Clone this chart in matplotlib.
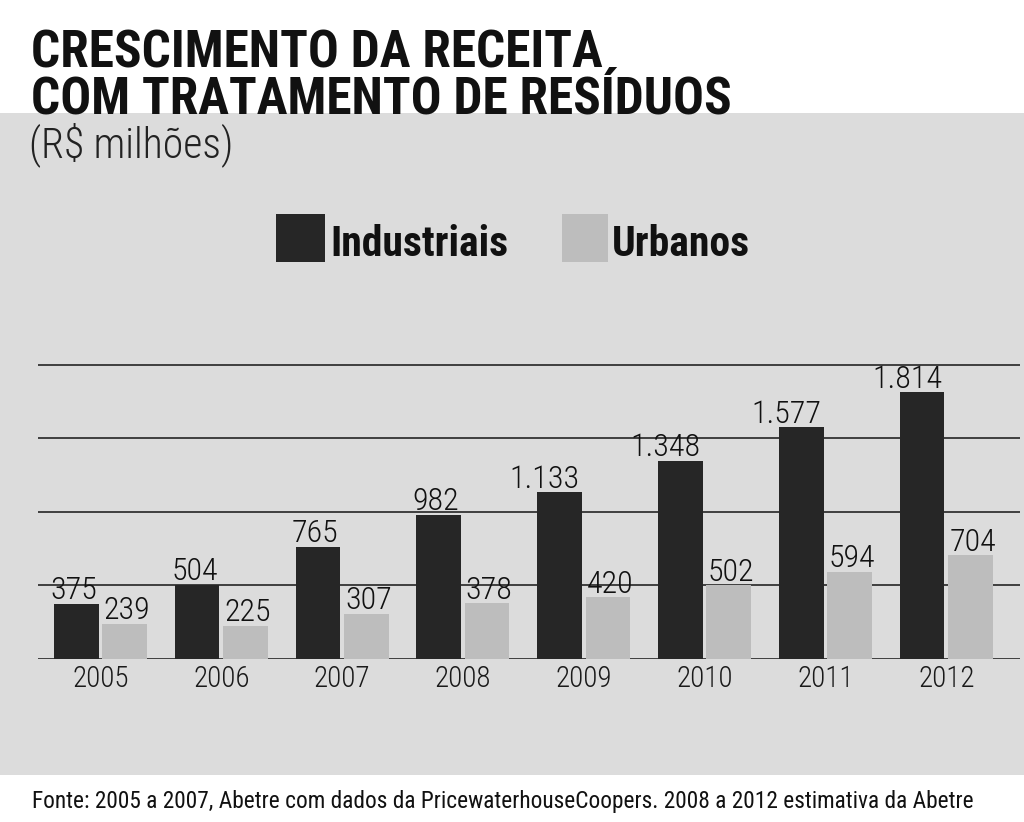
import matplotlib
matplotlib.use("Agg")
import matplotlib.pyplot as plt
from matplotlib.patches import Rectangle

years = ["2005", "2006", "2007", "2008", "2009", "2010", "2011", "2012"]
industriais = [375, 504, 765, 982, 1133, 1348, 1577, 1814]
urbanos = [239, 225, 307, 378, 420, 502, 594, 704]
series_names = ["Industriais", "Urbanos"]
title_lines = ["CRESCIMENTO DA RECEITA", "COM TRATAMENTO DE RESÍDUOS"]
subtitle = "(R$ milhões)"
source = "Fonte: 2005 a 2007, Abetre com dados da PricewaterhouseCoopers. 2008 a 2012 estimativa da Abetre"

FAM = ["Roboto Condensed", "DejaVu Sans"]
COND = dict(family=FAM, fontstretch="condensed")


def fmt(v):
    return f"{v:,}".replace(",", ".")


W, H = 1024, 822
fig = plt.figure(figsize=(W / 100, H / 100), dpi=100, facecolor="white")

BG = "#dcdcdc"
fig.patches.append(Rectangle((0, 1 - 775 / H), 1, (775 - 113) / H, transform=fig.transFigure,
                             facecolor=BG, edgecolor="none", zorder=-10))

ax = fig.add_axes([38 / W, 1 - 659 / H, 982 / W, (659 - 357.6) / H])
ax.set_zorder(5)
ax.set_facecolor("none")
ax.set_ylim(0, 2050)
ax.set_xlim(-0.517, 7.61)

x = list(range(len(years)))
bw = 0.37
off = 0.2
ind_color = "#262626"
urb_color = "#bdbdbd"
ax.bar([i - off for i in x], industriais, width=bw, color=ind_color, zorder=3)
ax.bar([i + off for i in x], urbanos, width=bw, color=urb_color, zorder=3)

ax.set_yticks([0, 500, 1000, 1500, 2000])
ax.yaxis.grid(True, color="#333333", linewidth=1.3, zorder=1)
ax.set_axisbelow(True)
ax.tick_params(axis="y", length=0, labelleft=False)
ax.tick_params(axis="x", length=0, pad=4)
ax.set_xticks(x)
ax.set_xticklabels(years, fontsize=21, color="#1a1a1a", fontweight="light", **COND)
for s in ax.spines.values():
    s.set_visible(False)

lab = dict(fontsize=23, color="#111111", fontweight="light", zorder=4, annotation_clip=False,
           textcoords="offset points", va="bottom", **COND)
for i, v in enumerate(industriais):
    if v >= 1000:
        ax.annotate(fmt(v), (i - off + bw / 2, v), xytext=(-1.5, -1), ha="right", **lab)
    else:
        ax.annotate(fmt(v), (i - off, v), xytext=(-2, -1), ha="center", **lab)
for i, v in enumerate(urbanos):
    ax.annotate(fmt(v), (i + off, v), xytext=(1.5, -1), ha="center", **lab)

# title
fig.text(31 / W, 1 - 67 / H, title_lines[0], fontweight="bold", fontsize=37, color="#111111",
         va="baseline", ha="left", **COND)
fig.text(31 / W, 1 - 113 / H, title_lines[1], fontweight="bold", fontsize=37, color="#111111",
         va="baseline", ha="left", **COND)
fig.text(29 / W, 1 - 157 / H, subtitle, fontweight="light", fontsize=30, color="#222222",
         va="baseline", ha="left", **COND)

# legend
fig.patches.append(Rectangle((276 / W, 1 - 262 / H), 49 / W, 48 / H, transform=fig.transFigure,
                             facecolor=ind_color, edgecolor="none", zorder=2))
fig.text(330 / W, 1 - 256 / H, series_names[0], fontweight="bold", fontsize=30, color="#111111",
         va="baseline", ha="left", **COND)
fig.patches.append(Rectangle((562 / W, 1 - 262 / H), 46 / W, 48 / H, transform=fig.transFigure,
                             facecolor=urb_color, edgecolor="none", zorder=2))
fig.text(612 / W, 1 - 256 / H, series_names[1], fontweight="bold", fontsize=30, color="#111111",
         va="baseline", ha="left", **COND)

fig.text(32 / W, 1 - 808 / H, source, fontsize=16.8, color="#111111",
         va="baseline", ha="left", **COND)

fig.savefig("out.png", dpi=100, facecolor="white")
